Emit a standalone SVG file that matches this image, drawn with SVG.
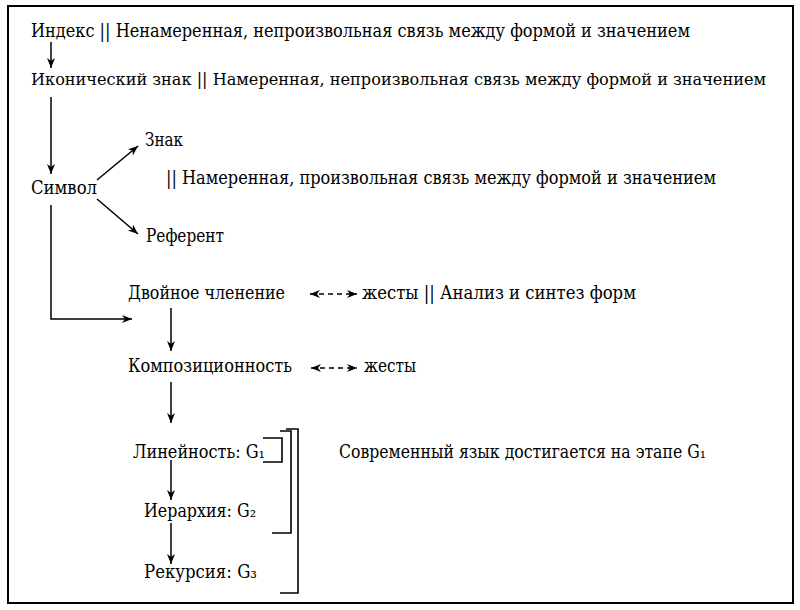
<svg xmlns="http://www.w3.org/2000/svg" width="800" height="610" viewBox="0 0 800 610">
<style>
text{font-family:"DejaVu Serif","Liberation Serif",serif;font-size:18px;fill:#000}
.ln{stroke:#000;stroke-width:1.5;fill:none}
.ar{marker-end:url(#ah)}
.dash{stroke:#000;stroke-width:1.5;stroke-dasharray:5,4;fill:none;marker-start:url(#ahs);marker-end:url(#ah)}
.br{stroke:#000;stroke-width:1.6;fill:none}
</style>
<defs>
<marker id="ah" markerWidth="12" markerHeight="10" refX="10" refY="4" orient="auto" markerUnits="userSpaceOnUse">
<path d="M0,0 L10,4 L0,8 L3,4 z" fill="#000"/>
</marker>
<marker id="ahs" markerWidth="12" markerHeight="10" refX="0" refY="4" orient="auto" markerUnits="userSpaceOnUse">
<path d="M10,0 L0,4 L10,8 L7,4 z" fill="#000"/>
</marker>
</defs>
<rect x="8" y="6" width="785" height="597" fill="#fff" stroke="#000" stroke-width="2"/>
<g id="index"><text x="31" y="37" textLength="659" lengthAdjust="spacingAndGlyphs">Индекс || Ненамеренная, непроизвольная связь между формой и значением</text></g>
<g id="icon"><text x="31" y="85" textLength="735" lengthAdjust="spacingAndGlyphs" style="font-size:16px">Иконический знак || Намеренная, непроизвольная связь между формой и значением</text></g>
<g id="znak"><text x="145" y="146" textLength="38" lengthAdjust="spacingAndGlyphs">Знак</text></g>
<g id="symbol-desc"><text x="166" y="184" textLength="550" lengthAdjust="spacingAndGlyphs">|| Намеренная, произвольная связь между формой и значением</text></g>
<g id="symbol"><text x="31" y="194" textLength="66" lengthAdjust="spacingAndGlyphs">Символ</text></g>
<g id="referent"><text x="146" y="242" textLength="78" lengthAdjust="spacingAndGlyphs">Референт</text></g>
<g id="double"><text x="128" y="299" textLength="157" lengthAdjust="spacingAndGlyphs">Двойное членение</text></g>
<g id="gestures1"><text x="362" y="299" textLength="274" lengthAdjust="spacingAndGlyphs">жесты || Анализ и синтез форм</text></g>
<g id="comp"><text x="128" y="372" textLength="164" lengthAdjust="spacingAndGlyphs">Композиционность</text></g>
<g id="gestures2"><text x="364" y="372" textLength="52" lengthAdjust="spacingAndGlyphs">жесты</text></g>
<g id="linear"><text x="133" y="458" textLength="132" lengthAdjust="spacingAndGlyphs">Линейность: G₁</text></g>
<g id="hier"><text x="144" y="517" textLength="112" lengthAdjust="spacingAndGlyphs">Иерархия: G₂</text></g>
<g id="rec"><text x="144" y="578" textLength="113" lengthAdjust="spacingAndGlyphs">Рекурсия: G₃</text></g>
<g id="modern"><text x="339" y="458" textLength="367" lengthAdjust="spacingAndGlyphs">Современный язык достигается на этапе G₁</text></g>
<g id="connectors">
<line class="ln ar" x1="51" y1="42" x2="51" y2="68"/>
<line class="ln ar" x1="51" y1="97" x2="51" y2="174"/>
<line class="ln ar" x1="97" y1="180" x2="138" y2="146"/>
<line class="ln ar" x1="97" y1="199" x2="138" y2="234"/>
<polyline class="ln ar" points="51,205 51,319 132,319"/>
<line class="ln ar" x1="171" y1="308" x2="171" y2="351"/>
<line class="ln ar" x1="171" y1="382" x2="171" y2="423"/>
<line class="ln ar" x1="171" y1="460" x2="171" y2="500"/>
<line class="ln ar" x1="171" y1="523" x2="171" y2="564"/>
<line class="dash" x1="310" y1="294" x2="357" y2="294"/>
<line class="dash" x1="311" y1="368" x2="357" y2="368"/>
<polyline class="br" points="263,438 282,438 282,462 263,462"/>
<polyline class="br" points="280,431 291,431 291,533 272,533"/>
<polyline class="br" points="286,429 298,429 298,593 280,593"/>
</g>
</svg>
